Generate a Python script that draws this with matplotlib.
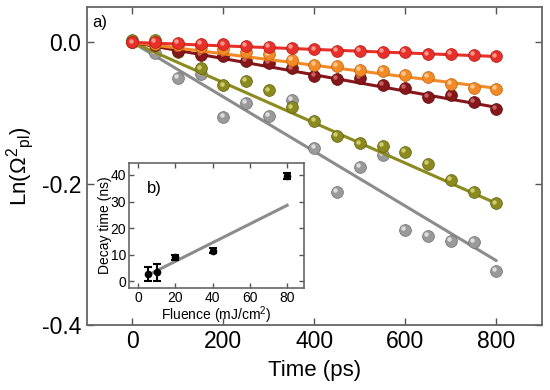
import numpy as np
import matplotlib
matplotlib.use("Agg")
import matplotlib.pyplot as plt
from matplotlib.transforms import offset_copy

plt.rcParams['font.family'] = ['Liberation Sans', 'DejaVu Sans']
plt.rcParams['mathtext.fontset'] = 'custom'
plt.rcParams['mathtext.rm'] = 'Liberation Sans'
plt.rcParams['mathtext.it'] = 'Liberation Sans'

# ---- main panel data ----
time_ps = [0, 50, 100, 150, 200, 250, 300, 350, 400, 450, 500, 550, 600, 650, 700, 750, 800]
gray_vals = [0, -0.015, -0.050, -0.045, -0.105, -0.086, -0.104, -0.082, -0.150, -0.212,
             -0.176, -0.159, -0.266, -0.274, -0.281, -0.282, -0.324]
olive_vals = [0.004, 0.003, -0.013, -0.037, -0.061, -0.055, -0.068, -0.092, -0.111, -0.132,
              -0.143, -0.147, -0.155, -0.172, -0.195, -0.212, -0.228]
darkred_vals = [0, -0.004, -0.012, -0.018, -0.019, -0.026, -0.029, -0.037, -0.048, -0.052,
                -0.050, -0.060, -0.065, -0.077, -0.075, -0.084, -0.094]
orange_vals = [0, -0.002, -0.004, -0.007, -0.010, -0.014, -0.017, -0.025, -0.032, -0.033,
               -0.039, -0.041, -0.046, -0.049, -0.059, -0.064, -0.066]
red_vals = [0, 0.001, -0.001, -0.002, -0.003, -0.005, -0.006, -0.008, -0.010, -0.012,
            -0.012, -0.014, -0.014, -0.017, -0.016, -0.018, -0.020]
fit_t = [0, 800]
fit_end = {'gray': -0.309, 'olive': -0.228, 'darkred': -0.092, 'orange': -0.065, 'red': -0.020}

x_ticks = [0, 200, 400, 600, 800]
y_ticks = [0.0, -0.2, -0.4]

# ---- inset data ----
fluence = [5, 10, 20, 40, 80]
decay_ns = [2.8, 3.5, 9.0, 11.5, 39.6]
decay_err = [2.5, 3.2, 0.8, 1.0, 1.0]
inset_fit_x = [5, 80]
inset_fit_y = [2.3, 28.6]

colors = {
    'gray': ('#9a9a9a', '#8c8c8c', '#6e6e6e', '#e6e6e6'),
    'olive': ('#8a8a1f', '#8a8a1f', '#5f5f10', '#d4d47a'),
    'darkred': ('#86161a', '#86161a', '#5a0a0c', '#d06a6a'),
    'orange': ('#f28a26', '#f28a26', '#c0600c', '#fcd09a'),
    'red': ('#e8302a', '#e8302a', '#b01812', '#f9a49a'),
}
series = [('gray', gray_vals), ('olive', olive_vals), ('darkred', darkred_vals),
          ('orange', orange_vals), ('red', red_vals)]

fig = plt.figure(figsize=(5.5, 3.9), dpi=100)
ax = fig.add_axes([0.158, 0.167, 0.827, 0.815])

hl = offset_copy(ax.transData, fig=fig, x=-1.3, y=1.3, units='points')
z = 2
for name, vals in series:
    mc, lc, ec, hc = colors[name]
    ax.plot(fit_t, [0, fit_end[name]], color=lc, lw=2.2, zorder=z, solid_capstyle='round')
    ax.plot(time_ps, vals, 'o', ms=8.5, color=mc, mec=ec, mew=0.5, zorder=z + 0.1)
    ax.plot(time_ps, vals, 'o', ms=3.2, color=hc, mew=0, alpha=0.9, zorder=z + 0.2, transform=hl)
    z += 1

ax.set_xlim(-100, 900)
ax.set_ylim(-0.4, 0.05)
ax.set_xticks(x_ticks)
ax.set_yticks(y_ticks)
ax.set_yticklabels(['0.0', '-0.2', '-0.4'])
ax.tick_params(direction='in', length=5, width=1, top=True, right=True,
               labelsize=16.5, colors='#555555', labelcolor='black', pad=4)
for s in ax.spines.values():
    s.set_color('#666666')
    s.set_linewidth(1.3)
ax.set_xlabel('Time (ps)', fontsize=16, labelpad=5)
ax.set_ylabel(r'Ln($\Omega^{2}$$_{\mathrm{pl}}$)', fontsize=16, labelpad=4)
ax.text(0.012, 0.975, 'a)', transform=ax.transAxes, fontsize=12, va='top', ha='left')

# ---- inset ----
ax2 = fig.add_axes([0.2345, 0.2615, 0.318, 0.3205])
ax2.set_zorder(10)
ax2.plot(inset_fit_x, inset_fit_y, color='#8c8c8c', lw=2.2, zorder=2)
ax2.errorbar(fluence, decay_ns, yerr=decay_err, fmt='o', ms=4.5, color='black',
             ecolor='black', elinewidth=1.5, capsize=3, capthick=1.5, zorder=3)
ax2.set_xlim(-5, 89)
ax2.set_ylim(-2.5, 44.5)
ax2.set_xticks([0, 20, 40, 60, 80])
ax2.set_yticks([0, 10, 20, 30, 40])
ax2.tick_params(direction='in', length=3.5, width=1, top=True, right=True,
                labelsize=10, colors='#555555', labelcolor='black', pad=2)
for s in ax2.spines.values():
    s.set_color('#666666')
    s.set_linewidth(1.2)
ax2.set_xlabel(r'Fluence (mJ/cm$^{2}$)', fontsize=10, labelpad=0)
ax2.set_ylabel('Decay time (ns)', fontsize=10, labelpad=-1)
ax2.text(0.1, 0.86, 'b)', transform=ax2.transAxes, fontsize=12, va='top', ha='left')

fig.savefig('out.png', dpi=100)
